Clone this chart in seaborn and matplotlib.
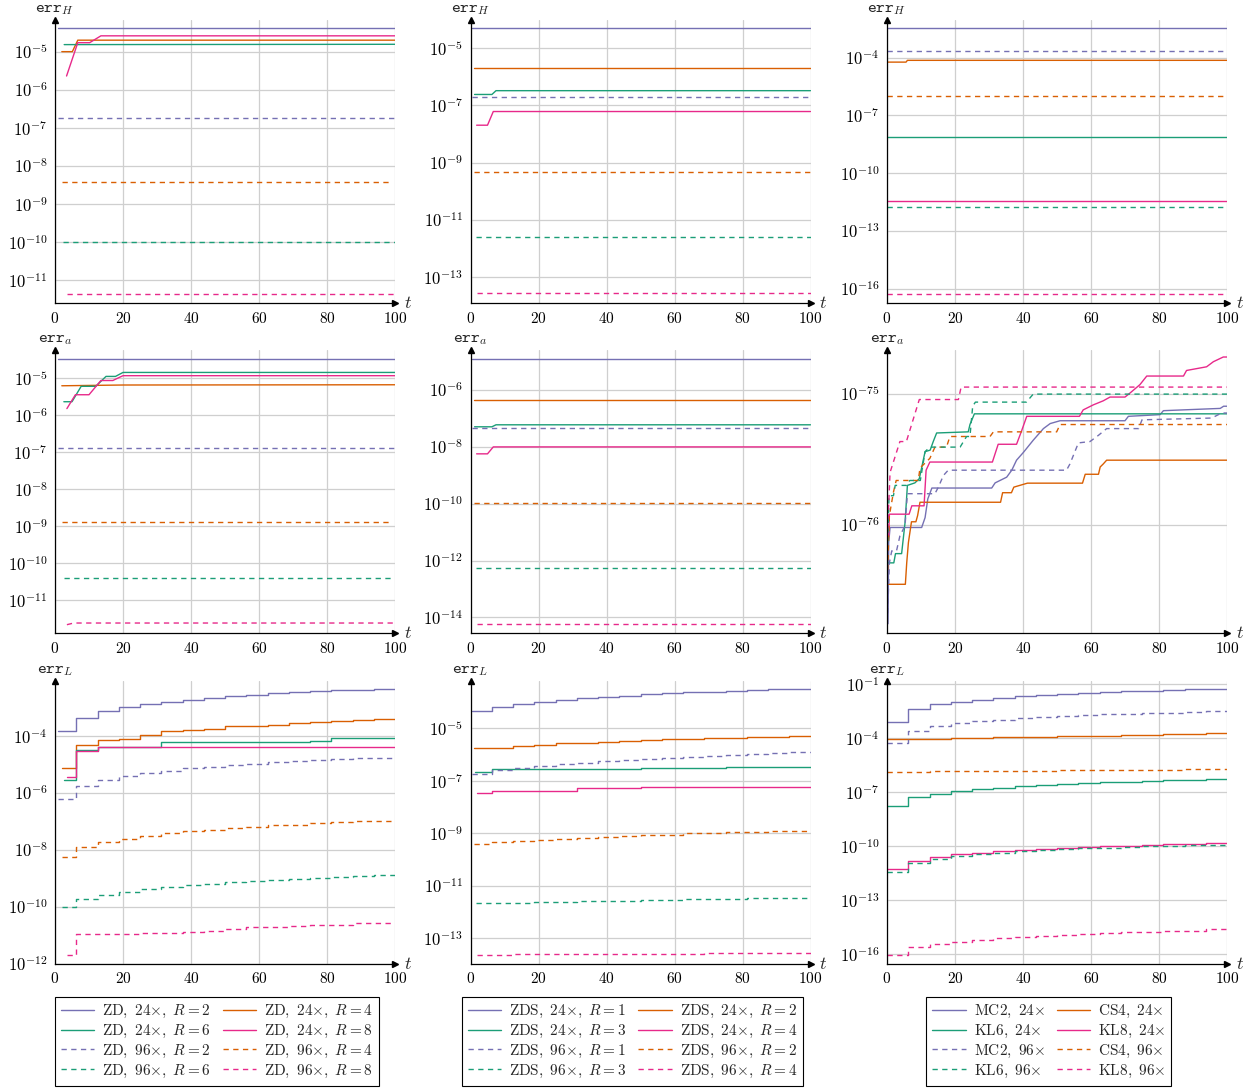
import numpy as np
import matplotlib
matplotlib.use("Agg")
import matplotlib.pyplot as plt
import seaborn as sns
from matplotlib.lines import Line2D
from matplotlib.ticker import FixedLocator, FuncFormatter, LogLocator, NullFormatter, NullLocator

# ---- data: each panel has 8 series in the order
# 24x (purple, orange, teal, pink) then 96x (purple, orange, teal, pink)

# row 1: err_H
zd_H_t = [[1, 100], [2, 5.1, 6.7, 100], [2.7, 100], [3.4, 6.7, 10.2, 13.5, 100],
          [1, 100], [2, 99], [2.4, 100], [3.4, 100]]
zd_H_v = [[4.2e-5, 4.2e-5], [1.0e-5, 1.0e-5, 2.0e-5, 2.0e-5], [1.53e-5, 1.56e-5],
          [2.3e-6, 1.72e-5, 1.72e-5, 2.6e-5, 2.6e-5],
          [1.8e-7, 1.8e-7], [3.8e-9, 3.8e-9], [1.03e-10, 1.03e-10], [4.5e-12, 4.5e-12]]

zds_H_t = [[0.5, 100], [1, 100], [1.2, 6.3, 7.5, 100], [1.8, 5.0, 6.7, 100],
           [0.3, 100], [1, 100], [1.5, 100], [1.8, 100]]
zds_H_v = [[4.9e-5, 4.9e-5], [2.0e-6, 2.0e-6], [2.36e-7, 2.36e-7, 3.2e-7, 3.2e-7],
           [2.0e-8, 2.0e-8, 6.0e-8, 6.0e-8],
           [1.9e-7, 1.9e-7], [4.5e-10, 4.5e-10], [2.5e-12, 2.5e-12], [2.7e-14, 2.7e-14]]

kl_H_t = [[0, 100], [0, 5.6, 6.0, 100], [0, 100], [0, 100],
          [0, 100], [0, 100], [0, 100], [0, 100]]
kl_H_v = [[3.5e-3, 3.5e-3], [5.9e-5, 5.9e-5, 7.3e-5, 7.3e-5], [7.2e-9, 7.2e-9], [3.6e-12, 3.6e-12],
          [2.2e-4, 2.2e-4], [1.0e-6, 1.0e-6], [1.7e-12, 1.7e-12], [5.5e-17, 5.5e-17]]

# row 2: err_a
zd_a_t = [[1, 100], [2, 20, 100], [2.6, 5.0, 7.7, 12.0, 15.0, 17.8, 20.0, 100],
          [3.5, 6.0, 10.0, 13.5, 17.0, 20.0, 100],
          [1, 100], [2, 99], [2.6, 100], [3.5, 5.5, 100]]
zd_a_v = [[3.3e-5, 3.3e-5], [6.2e-6, 6.5e-6, 6.6e-6],
          [2.3e-6, 2.3e-6, 6.0e-6, 6.0e-6, 1.11e-5, 1.11e-5, 1.42e-5, 1.42e-5],
          [1.5e-6, 3.55e-6, 3.55e-6, 8.6e-6, 8.6e-6, 1.16e-5, 1.16e-5],
          [1.31e-7, 1.31e-7], [1.34e-9, 1.34e-9], [3.9e-11, 3.9e-11], [2.2e-12, 2.44e-12, 2.44e-12]]

zds_a_t = [[0.5, 100], [1, 100], [1.2, 6.3, 7.5, 100], [1.8, 5.0, 6.7, 100],
           [0.3, 100], [1, 100], [1.5, 100], [1.8, 100]]
zds_a_v = [[1.24e-5, 1.24e-5], [4.6e-7, 4.6e-7], [5.1e-8, 5.1e-8, 6.0e-8, 6.0e-8],
           [5.7e-9, 5.7e-9, 1.0e-8, 1.0e-8],
           [4.8e-8, 4.8e-8], [1.03e-10, 1.03e-10], [5.4e-13, 5.4e-13], [5.7e-15, 5.7e-15]]

kl_a_t = [
    [0.3, 0.5, 0.9, 10.2, 11.2, 12.0, 13.2, 30.8, 31.8, 35.2, 36.7, 38.1, 40.1, 43.0, 46.0, 48.0,
     50.9, 70.0, 71.0, 80.3, 81.3, 98.0, 99.0, 100],
    [0.4, 5.4, 5.8, 6.3, 7.2, 8.5, 9.0, 9.7, 33.4, 34.0, 36.6, 37.3, 41.3, 57.5, 58.3, 62.2,
     62.7, 63.6, 64.6, 100],
    [0.4, 2.0, 2.5, 4.3, 5.3, 6.0, 8.2, 9.5, 11.2, 12.7, 13.6, 14.6, 23.9, 24.4, 25.7, 100],
    [0.5, 0.7, 6.5, 7.3, 10.9, 11.5, 12.6, 31.0, 32.7, 38.1, 39.6, 41.1, 56.6, 57.7, 60.7, 63.6,
     65.6, 70.0, 71.5, 74.4, 76.4, 87.2, 88.1, 94.0, 96.0, 98.9, 100],
    [0.2, 0.7, 1.4, 2.8, 3.8, 5.3, 6.0, 14.1, 15.1, 16.6, 18.0, 52.8, 53.8, 56.3, 59.7, 62.2,
     64.6, 74.0, 75.0, 95.5, 98.4, 100],
    [0.2, 0.7, 1.9, 2.7, 9.2, 9.7, 12.6, 14.1, 17.5, 18.5, 30.3, 31.3, 49.9, 50.9, 100],
    [0.2, 0.6, 1.9, 2.4, 5.8, 6.7, 9.8, 11.2, 12.6, 21.5, 23.4, 24.4, 25.2, 26.0, 41.0, 43.0, 100],
    [0.2, 0.9, 3.8, 5.7, 9.5, 21.0, 21.8, 100],
]
kl_a_v = [
    [1.75e-77, 7.3e-77, 9.5e-77, 9.5e-77, 1.13e-76, 1.57e-76, 1.9e-76, 1.9e-76, 2.08e-76, 2.3e-76,
     2.6e-76, 3.1e-76, 3.55e-76, 4.4e-76, 5.4e-76, 5.9e-76, 6.2e-76, 6.2e-76, 6.7e-76, 6.9e-76,
     7.4e-76, 7.7e-76, 8.0e-76, 8.0e-76],
    [3.5e-77, 3.5e-77, 5.1e-77, 7.3e-77, 1.05e-76, 1.05e-76, 1.17e-76, 1.48e-76, 1.48e-76, 1.75e-76,
     1.75e-76, 1.93e-76, 2.07e-76, 2.07e-76, 2.42e-76, 2.42e-76, 2.75e-76, 2.9e-76, 3.1e-76, 3.1e-76],
    [5.1e-77, 5.1e-77, 6.0e-77, 6.0e-77, 1.03e-76, 1.99e-76, 2.08e-76, 2.24e-76, 3.6e-76, 3.7e-76,
     4.3e-76, 5.0e-76, 5.1e-76, 5.8e-76, 7.0e-76, 7.0e-76],
    [8.2e-77, 1.2e-76, 1.2e-76, 1.39e-76, 1.39e-76, 2.6e-76, 3.0e-76, 3.0e-76, 4.1e-76, 4.1e-76,
     5.2e-76, 6.7e-76, 6.7e-76, 7.5e-76, 8.2e-76, 8.8e-76, 9.4e-76, 9.4e-76, 1.01e-75, 1.17e-75,
     1.36e-75, 1.36e-75, 1.5e-75, 1.6e-75, 1.75e-75, 1.9e-75, 1.9e-75],
    [2.1e-77, 5.1e-77, 6.3e-77, 6.3e-77, 8.2e-77, 9.8e-77, 1.72e-76, 1.72e-76, 1.93e-76, 2.37e-76,
     2.6e-76, 2.6e-76, 2.9e-76, 4.2e-76, 4.3e-76, 4.8e-76, 5.4e-76, 5.4e-76, 6.3e-76, 6.5e-76,
     7.1e-76, 7.1e-76],
    [4.5e-77, 1.17e-76, 1.77e-76, 2.17e-76, 2.17e-76, 2.7e-76, 3.2e-76, 3.9e-76, 3.9e-76, 4.7e-76,
     4.7e-76, 5.1e-76, 5.1e-76, 5.8e-76, 5.8e-76],
    [7.3e-77, 1.66e-76, 1.66e-76, 1.99e-76, 1.99e-76, 2.17e-76, 2.17e-76, 3.6e-76, 3.9e-76, 3.9e-76,
     4.7e-76, 4.7e-76, 8.0e-76, 8.6e-76, 8.6e-76, 9.9e-76, 9.9e-76],
    [9.2e-77, 2.5e-76, 4.3e-76, 4.3e-76, 9.0e-76, 9.0e-76, 1.12e-75, 1.12e-75],
]

# row 3: err_L, piecewise constant; level changes at these times
step_t = [6.2, 12.5, 18.8, 25.0, 31.2, 37.5, 43.8, 50.0, 56.2, 62.5, 68.8, 75.0, 81.2, 87.5, 93.8]

zd_L_start = [1, 2, 2.7, 3.4, 1, 2, 2, 3.4]
zd_L_v = [
    [1.5e-4, 4.3e-4, 7.4e-4, 1.03e-3, 1.35e-3, 1.63e-3, 1.91e-3, 2.2e-3, 2.55e-3, 2.88e-3, 3.2e-3,
     3.5e-3, 3.77e-3, 4.1e-3, 4.3e-3, 4.6e-3, 4.6e-3],
    [7.6e-6, 4.8e-5, 7.4e-5, 7.7e-5, 1.08e-4, 1.54e-4, 1.6e-4, 1.8e-4, 2.2e-4, 2.3e-4, 2.5e-4,
     2.9e-4, 3.2e-4, 3.4e-4, 3.6e-4, 3.9e-4, 3.9e-4],
    [2.95e-6, 3.3e-5, 4.2e-5, 4.2e-5, 4.2e-5, 6.0e-5, 6.1e-5, 6.1e-5, 6.1e-5, 6.1e-5, 6.1e-5,
     6.1e-5, 6.8e-5, 8.5e-5, 8.7e-5, 8.7e-5, 8.7e-5],
    [3.8e-6, 2.9e-5, 4.2e-5, 4.2e-5, 4.2e-5, 4.2e-5, 4.2e-5, 4.2e-5, 4.2e-5, 4.2e-5, 4.2e-5,
     4.2e-5, 4.2e-5, 4.2e-5, 4.2e-5, 4.2e-5, 4.2e-5],
    [6.0e-7, 1.77e-6, 2.9e-6, 4.0e-6, 5.2e-6, 5.9e-6, 7.4e-6, 8.5e-6, 9.5e-6, 1.08e-5, 1.2e-5,
     1.3e-5, 1.42e-5, 1.54e-5, 1.67e-5, 1.77e-5, 1.77e-5],
    [5.5e-9, 1.24e-8, 1.87e-8, 2.5e-8, 3.2e-8, 4.0e-8, 4.7e-8, 5.2e-8, 5.8e-8, 6.5e-8, 7.3e-8,
     7.8e-8, 8.7e-8, 9.5e-8, 1.0e-7, 1.08e-7, 1.08e-7],
    [1.0e-10, 1.82e-10, 2.6e-10, 3.4e-10, 4.2e-10, 4.9e-10, 5.7e-10, 6.5e-10, 7.3e-10, 8.1e-10,
     9.0e-10, 9.8e-10, 1.06e-9, 1.15e-9, 1.25e-9, 1.33e-9, 1.33e-9],
    [2.0e-12, 1.1e-11, 1.1e-11, 1.1e-11, 1.24e-11, 1.24e-11, 1.3e-11, 1.38e-11, 1.6e-11, 2.0e-11,
     2.0e-11, 2.05e-11, 2.3e-11, 2.3e-11, 2.7e-11, 2.7e-11, 2.7e-11],
]

zds_L_start = [0.5, 1, 1.2, 1.8, 0.5, 1, 1.5, 1.8]
zds_L_v = [
    [4.6e-5, 6.5e-5, 8.3e-5, 1.02e-4, 1.18e-4, 1.41e-4, 1.58e-4, 1.78e-4, 2.0e-4, 2.2e-4, 2.4e-4,
     2.5e-4, 2.7e-4, 2.85e-4, 3.1e-4, 3.3e-4, 3.3e-4],
    [1.77e-6, 1.77e-6, 2.2e-6, 2.4e-6, 2.7e-6, 2.9e-6, 3.1e-6, 3.4e-6, 3.6e-6, 3.8e-6, 3.9e-6,
     4.15e-6, 4.4e-6, 4.65e-6, 4.9e-6, 5.2e-6, 5.2e-6],
    [2.26e-7, 2.8e-7, 2.8e-7, 2.8e-7, 2.85e-7, 2.9e-7, 2.9e-7, 2.95e-7, 3.05e-7, 3.05e-7, 3.1e-7,
     3.1e-7, 3.4e-7, 3.4e-7, 3.4e-7, 3.4e-7, 3.4e-7],
    [3.4e-8, 4.1e-8, 4.1e-8, 4.1e-8, 4.1e-8, 5.4e-8, 5.4e-8, 5.5e-8, 5.6e-8, 5.6e-8, 5.6e-8,
     5.6e-8, 5.6e-8, 5.6e-8, 5.6e-8, 5.6e-8, 5.6e-8],
    [1.79e-7, 2.5e-7, 3.05e-7, 3.7e-7, 4.3e-7, 4.8e-7, 5.5e-7, 6.1e-7, 6.7e-7, 7.5e-7, 8.2e-7,
     9.0e-7, 9.8e-7, 1.04e-6, 1.14e-6, 1.24e-6, 1.24e-6],
    [4.1e-10, 4.6e-10, 5.0e-10, 5.7e-10, 6.2e-10, 6.8e-10, 7.4e-10, 7.9e-10, 8.5e-10, 9.0e-10,
     1.0e-9, 1.03e-9, 1.09e-9, 1.15e-9, 1.22e-9, 1.28e-9, 1.28e-9],
    [2.13e-12, 2.2e-12, 2.3e-12, 2.4e-12, 2.5e-12, 2.55e-12, 2.65e-12, 2.75e-12, 2.85e-12, 2.95e-12,
     3.05e-12, 3.15e-12, 3.25e-12, 3.35e-12, 3.45e-12, 3.55e-12, 3.55e-12],
    [2.25e-14, 2.4e-14, 2.45e-14, 2.5e-14, 2.5e-14, 2.5e-14, 2.55e-14, 2.55e-14, 2.6e-14, 2.6e-14,
     2.6e-14, 2.65e-14, 2.7e-14, 2.7e-14, 2.75e-14, 2.75e-14, 2.75e-14],
]

kl_L_start = [0, 0, 0, 0, 0, 0, 0, 0]
kl_L_v = [
    [8.0e-4, 4.1e-3, 7.7e-3, 1.08e-2, 1.34e-2, 1.66e-2, 2.1e-2, 2.45e-2, 2.9e-2, 3.3e-2, 3.6e-2,
     4.1e-2, 4.4e-2, 4.8e-2, 5.3e-2, 5.7e-2, 5.7e-2],
    [8.7e-5, 9.0e-5, 9.4e-5, 1.0e-4, 1.05e-4, 1.1e-4, 1.15e-4, 1.2e-4, 1.27e-4, 1.33e-4, 1.4e-4,
     1.47e-4, 1.55e-4, 1.65e-4, 1.75e-4, 1.9e-4, 1.9e-4],
    [1.67e-8, 5.1e-8, 8.1e-8, 1.15e-7, 1.42e-7, 1.76e-7, 2.2e-7, 2.5e-7, 2.8e-7, 3.2e-7, 3.5e-7,
     3.9e-7, 4.3e-7, 4.6e-7, 4.9e-7, 5.3e-7, 5.3e-7],
    [5.7e-12, 1.51e-11, 2.5e-11, 3.6e-11, 4.4e-11, 5.2e-11, 6.2e-11, 7.1e-11, 8.0e-11, 9.3e-11,
     1.0e-10, 1.09e-10, 1.19e-10, 1.3e-10, 1.42e-10, 1.52e-10, 1.52e-10],
    [5.2e-5, 2.6e-4, 4.6e-4, 7.0e-4, 8.7e-4, 1.03e-3, 1.33e-3, 1.52e-3, 1.72e-3, 1.9e-3, 2.1e-3,
     2.3e-3, 2.5e-3, 2.65e-3, 2.9e-3, 3.3e-3, 3.3e-3],
    [1.37e-6, 1.4e-6, 1.43e-6, 1.46e-6, 1.5e-6, 1.53e-6, 1.56e-6, 1.6e-6, 1.63e-6, 1.67e-6, 1.7e-6,
     1.73e-6, 1.77e-6, 1.8e-6, 1.85e-6, 1.9e-6, 1.9e-6],
    [3.9e-12, 1.2e-11, 2.0e-11, 2.8e-11, 3.6e-11, 4.4e-11, 5.2e-11, 6.0e-11, 6.8e-11, 7.7e-11,
     8.5e-11, 9.3e-11, 1.0e-10, 1.09e-10, 1.14e-10, 1.24e-10, 1.24e-10],
    [8.8e-17, 2.5e-16, 3.8e-16, 5.1e-16, 6.3e-16, 7.8e-16, 9.6e-16, 1.1e-15, 1.25e-15, 1.4e-15,
     1.55e-15, 1.68e-15, 1.8e-15, 1.97e-15, 2.1e-15, 2.4e-15, 2.4e-15],
]

zd_labels = [r"$\mathrm{ZD},\ 24{\times},\ R=2$", r"$\mathrm{ZD},\ 24{\times},\ R=4$",
             r"$\mathrm{ZD},\ 24{\times},\ R=6$", r"$\mathrm{ZD},\ 24{\times},\ R=8$",
             r"$\mathrm{ZD},\ 96{\times},\ R=2$", r"$\mathrm{ZD},\ 96{\times},\ R=4$",
             r"$\mathrm{ZD},\ 96{\times},\ R=6$", r"$\mathrm{ZD},\ 96{\times},\ R=8$"]
zds_labels = [r"$\mathrm{ZDS},\ 24{\times},\ R=1$", r"$\mathrm{ZDS},\ 24{\times},\ R=2$",
              r"$\mathrm{ZDS},\ 24{\times},\ R=3$", r"$\mathrm{ZDS},\ 24{\times},\ R=4$",
              r"$\mathrm{ZDS},\ 96{\times},\ R=1$", r"$\mathrm{ZDS},\ 96{\times},\ R=2$",
              r"$\mathrm{ZDS},\ 96{\times},\ R=3$", r"$\mathrm{ZDS},\ 96{\times},\ R=4$"]
kl_labels = [r"$\mathrm{MC2},\ 24{\times}$", r"$\mathrm{CS4},\ 24{\times}$",
             r"$\mathrm{KL6},\ 24{\times}$", r"$\mathrm{KL8},\ 24{\times}$",
             r"$\mathrm{MC2},\ 96{\times}$", r"$\mathrm{CS4},\ 96{\times}$",
             r"$\mathrm{KL6},\ 96{\times}$", r"$\mathrm{KL8},\ 96{\times}$"]

# ---- style
sns.set_style("white")
plt.rcParams["mathtext.fontset"] = "cm"
plt.rcParams["font.family"] = ["DejaVu Serif"]

pal = sns.color_palette("Dark2")
colors = [pal[2], pal[1], pal[0], pal[3]] * 2
dash = (0, (3.8, 3.2))
styles = ["-"] * 4 + [dash] * 4
FS = 11


def with_steps(starts, vals):
    ts = [[s] + step_t + [100] for s in starts]
    return ts, vals


def draw_panel(ax, ts, vs, lims, ticks, minor, ylab, steps=False):
    for i in range(8):
        sns.lineplot(x=ts[i], y=vs[i], ax=ax, color=colors[i], linestyle=styles[i], lw=1.0,
                     estimator=None, sort=False,
                     drawstyle="steps-post" if steps else "default")
    ax.set_yscale("log")
    ax.set_xlim(0, 100)
    ax.set_ylim(10.0 ** lims[0], 10.0 ** lims[1])
    ax.set_xlabel("")
    ax.set_ylabel("")
    ax.xaxis.set_major_locator(FixedLocator([0, 20, 40, 60, 80, 100]))
    ax.xaxis.set_major_formatter(FuncFormatter(lambda x, p: r"$%d$" % x))
    ax.yaxis.set_major_locator(FixedLocator([10.0 ** e for e in ticks]))
    ax.yaxis.set_major_formatter(FuncFormatter(lambda y, p: r"$10^{%d}$" % round(np.log10(y))))
    if minor:
        ax.yaxis.set_minor_locator(LogLocator(base=10, subs=np.arange(2, 10) * 1.0, numticks=200))
    else:
        ax.yaxis.set_minor_locator(NullLocator())
    ax.yaxis.set_minor_formatter(NullFormatter())
    ax.grid(True, which="major", color="#cfcfcf", lw=0.9)
    ax.set_axisbelow(True)
    for s in ["top", "right"]:
        ax.spines[s].set_visible(False)
    for s in ["left", "bottom"]:
        ax.spines[s].set_color("black")
        ax.spines[s].set_linewidth(0.9)
    ax.tick_params(which="major", direction="inout", length=5, width=0.8, colors="black", pad=3)
    ax.tick_params(axis="x", labelsize=FS)
    ax.tick_params(axis="y", labelsize=FS + 1)
    ax.tick_params(which="minor", direction="inout", length=3, width=0.6, colors="black")
    ax.plot(1, 0, marker=">", color="k", ms=4, transform=ax.transAxes, clip_on=False)
    ax.plot(0, 1, marker="^", color="k", ms=4, transform=ax.transAxes, clip_on=False)
    ax.text(1.026, 0.0, r"$t$", transform=ax.transAxes, ha="left", va="center", fontsize=FS + 2)
    ax.annotate(ylab, xy=(0, 1), xycoords="axes fraction", xytext=(0, 5.5),
                textcoords="offset points", ha="center", va="baseline", fontsize=FS + 1)


fig = plt.figure(figsize=(12.56, 10.88), dpi=100)
W, H = 1256.0, 1088.0
lefts = [55, 470.5, 887]
bottoms = [303, 633.3, 963.7]
aw, ah = 340, 283


def new_ax(r, c):
    return fig.add_axes([lefts[c] / W, 1 - bottoms[r] / H, aw / W, ah / H])


lab_H = r"$\mathtt{err}_H$"
lab_a = r"$\mathtt{err}_a$"
lab_L = r"$\mathtt{err}_L$"

draw_panel(new_ax(0, 0), zd_H_t, zd_H_v, (-11.59, -4.17), range(-5, -12, -1), True, lab_H)
draw_panel(new_ax(0, 1), zds_H_t, zds_H_v, (-13.9, -4.03), [-5, -7, -9, -11, -13], False, lab_H)
draw_panel(new_ax(0, 2), kl_H_t, kl_H_v, (-16.75, -2.04), [-4, -7, -10, -13, -16], False, lab_H)

draw_panel(new_ax(1, 0), zd_a_t, zd_a_v, (-11.89, -4.25), range(-5, -12, -1), True, lab_a)
draw_panel(new_ax(1, 1), zds_a_t, zds_a_v, (-14.56, -4.6), [-6, -8, -10, -12, -14], False, lab_a)
draw_panel(new_ax(1, 2), kl_a_t, kl_a_v, (-76.83, -74.67), [-76, -75], True, lab_a)

row3 = [
    (zd_L_start, zd_L_v, (-12, -2.05), [-4, -6, -8, -10, -12], zd_labels),
    (zds_L_start, zds_L_v, (-13.97, -3.18), [-5, -7, -9, -11, -13], zds_labels),
    (kl_L_start, kl_L_v, (-16.52, -0.81), [-1, -4, -7, -10, -13, -16], kl_labels),
]
order = [0, 2, 4, 6, 1, 3, 5, 7]
for c, (st, vals, lims, ticks, labels) in enumerate(row3):
    ax = new_ax(2, c)
    ts, vs = with_steps(st, vals)
    draw_panel(ax, ts, vs, lims, ticks, False, lab_L, steps=True)
    handles = [Line2D([], [], color=colors[i], linestyle=styles[i], lw=1.0) for i in order]
    leg = ax.legend(handles, [labels[i] for i in order], loc="upper center",
                    bbox_to_anchor=(0.476, -0.117), ncol=2, frameon=True, fancybox=False,
                    edgecolor="black", framealpha=1, fontsize=FS, handlelength=2.2,
                    handletextpad=0.5, columnspacing=0.8, labelspacing=0.18,
                    borderpad=0.4, borderaxespad=0)
    leg.get_frame().set_linewidth(0.8)

fig.savefig("out.png", dpi=100)
